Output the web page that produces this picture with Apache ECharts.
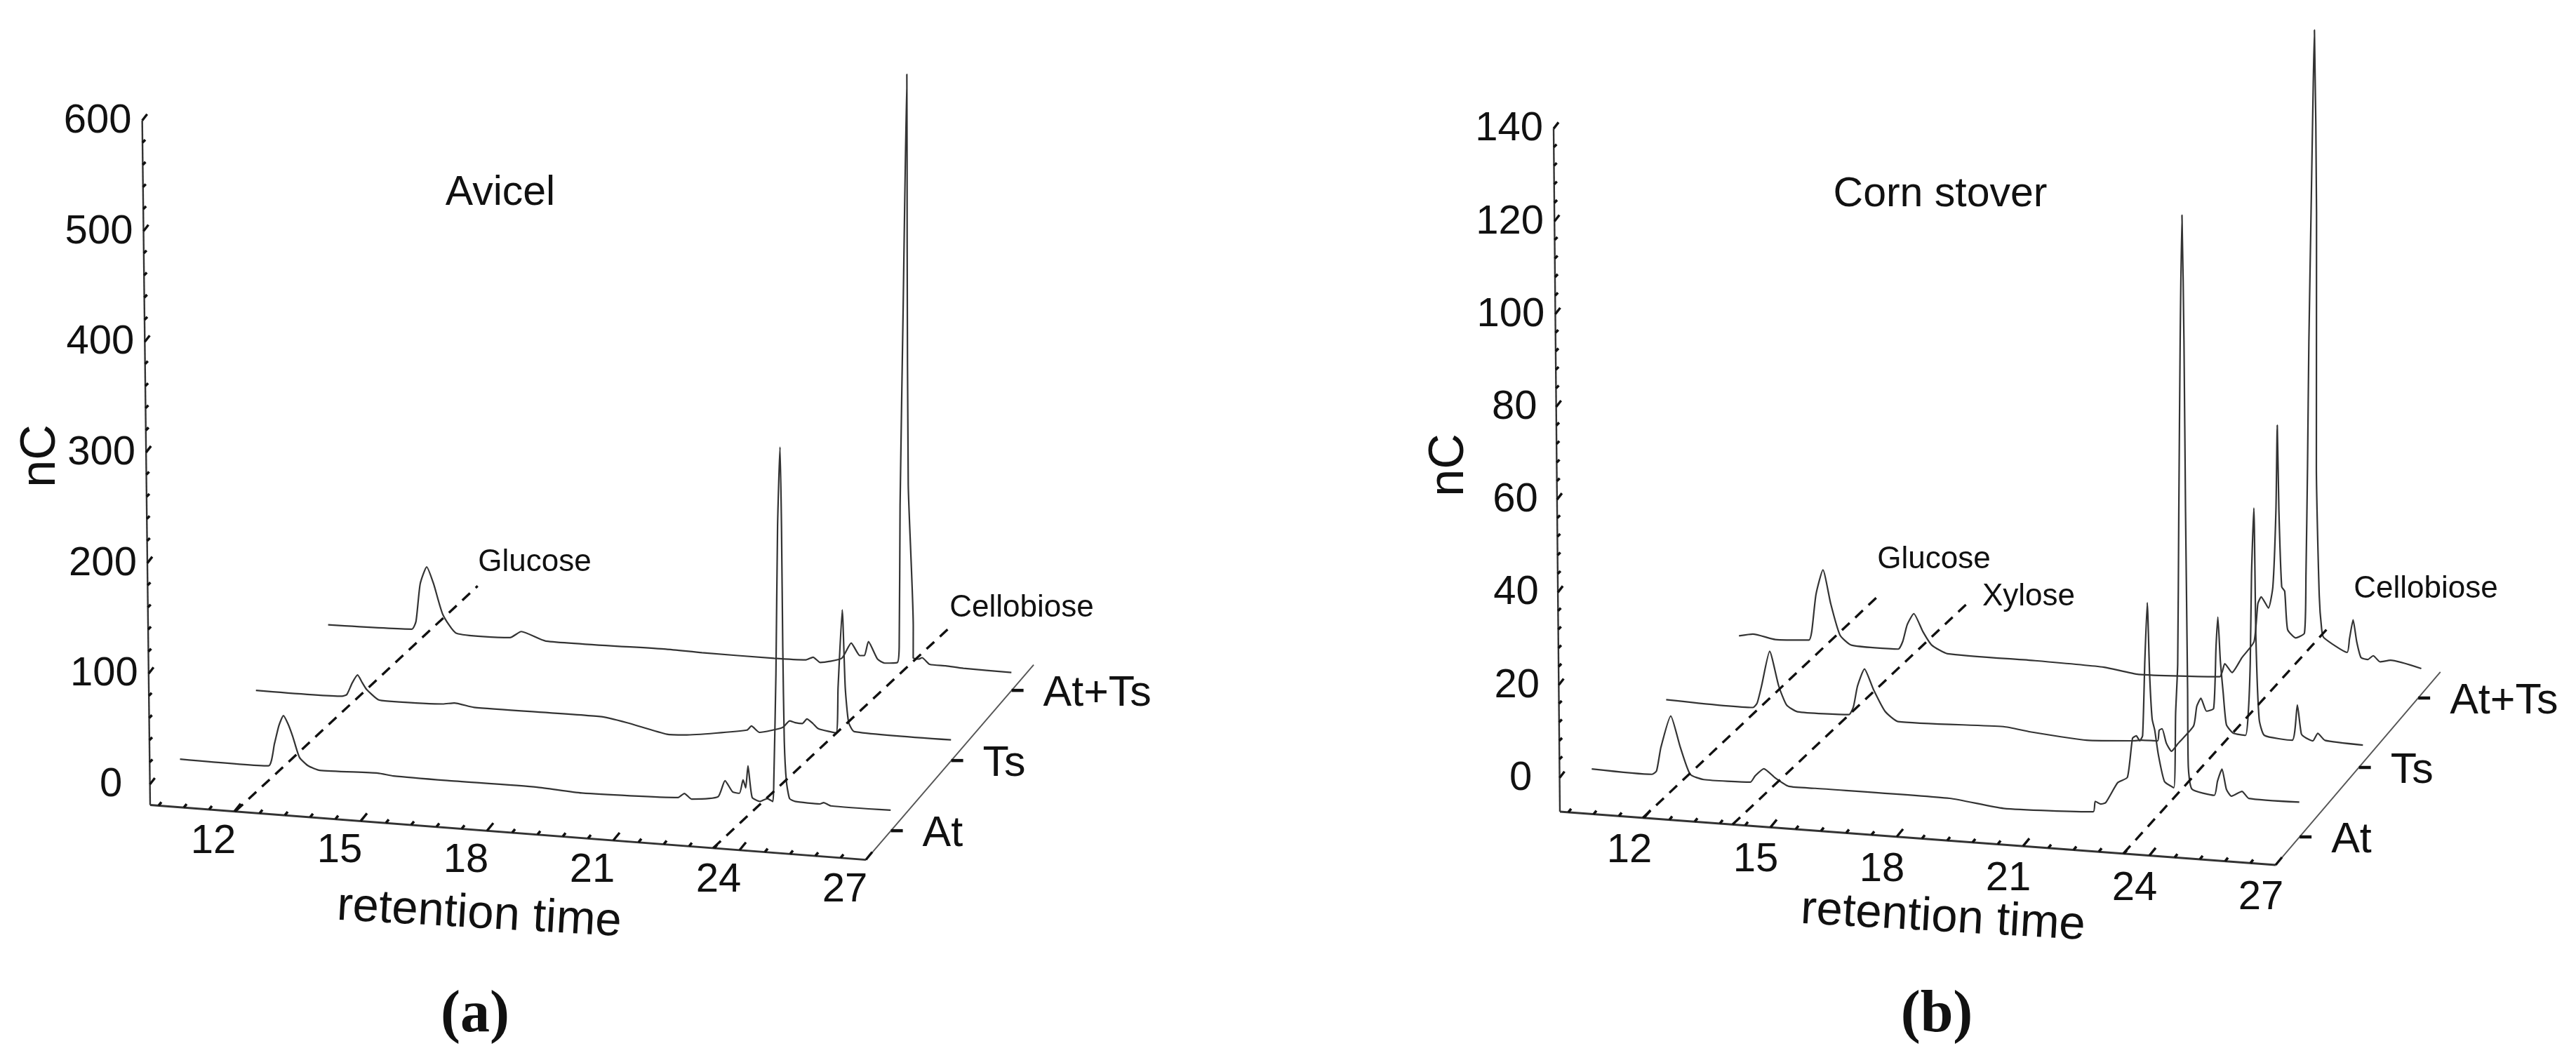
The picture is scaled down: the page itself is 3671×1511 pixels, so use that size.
<!DOCTYPE html>
<html>
<head>
<meta charset="utf-8">
<style>html,body{margin:0;padding:0;background:#fff}#c{width:3671px;height:1511px}</style>
<script src="https://cdn.jsdelivr.net/npm/echarts@6/dist/echarts.min.js"></script>
</head>
<body>
<div id="c"></div>
<script>
// ---------- Data: [retention time, nC] ----------
const depthLabels = ['At', 'Ts', 'At+Ts'];
const timeTicks = [12, 15, 18, 21, 24, 27];
const nCTicksAvicel = [0, 100, 200, 300, 400, 500, 600];
const nCTicksCorn = [0, 20, 40, 60, 80, 100, 120, 140];

const avicelAt = [[10.12,-3.1],[12.22,-3.1],[12.37,17.4],[12.48,34],[12.59,43.4],[12.7,36],[12.81,24.7],[12.96,6.7],[13.17,-0.4],[13.44,-3.6],[14.82,-2.1],[15.19,-3.6],[16.47,-4],[18.6,-3.8],[19.66,-6],[21.95,-3.4],[22.1,0.7],[22.27,-3.9],[22.9,0],[23.07,15.1],[23.25,5.4],[23.41,4.7],[23.5,17.1],[23.56,10],[23.62,30.2],[23.71,1.9],[23.9,-1.2],[24.07,1.8],[24.2,-0.5],[24.23,18],[24.31,115],[24.39,249],[24.47,320.6],[24.483,249],[24.48,140],[24.49,55.3],[24.53,18.5],[24.6,3.3],[24.73,1.2],[25.32,0.6],[25.41,2.1],[25.58,-0.4],[27,-0.2]];
const avicelTs = [[10.49,-3.3],[12.54,-2.6],[12.65,-0.8],[12.78,10],[12.91,17.6],[13.02,11],[13.12,5.2],[13.39,-3.2],[13.66,-3.9],[14.93,-2.7],[15.2,-1],[15.67,-3.6],[18.66,-3.2],[19.29,-6.8],[20.25,-14.6],[20.67,-14],[22.15,-5.3],[22.26,-1.3],[22.45,-6.5],[23,-0.4],[23.17,6],[23.3,4.8],[23.47,4.5],[23.58,8.9],[23.72,5.3],[23.85,0.9],[24.27,-1.6],[24.33,39.9],[24.45,110],[24.5,40],[24.57,8.9],[24.7,0.8],[27,0]];
const avicelBoth = [[10.77,-6.7],[12.76,-4.8],[12.86,2.5],[12.97,36.7],[13.13,52.6],[13.29,37.6],[13.5,10.6],[13.82,-5.5],[15.09,-5.7],[15.36,0.6],[15.94,-6.3],[18.8,-5.3],[19.65,-6],[21.36,-6.1],[22.12,-5.3],[22.29,-2.4],[22.46,-6.7],[22.97,-1.4],[23.2,13.1],[23.4,2.3],[23.51,2.6],[23.61,15.5],[23.82,0.4],[23.99,-2.8],[24.29,-1.4],[24.34,13],[24.4,141],[24.53,323],[24.68,531.5],[24.64,378],[24.6,160],[24.68,32],[24.67,4],[24.8,3.2],[24.88,4.7],[25.06,-0.8],[25.44,-1],[25.86,-2.1],[27,-2.5]];

const cornAt = [[10.19,-4],[11.62,-4.2],[11.73,-3.4],[11.84,1.8],[12.08,8.7],[12.3,2.1],[12.53,-3.6],[12.85,-4.5],[13.96,-4.3],[14.07,-2.9],[14.28,-1.2],[14.55,-3],[14.87,-4.6],[15.5,-4.6],[18.69,-4.6],[19.97,-5.9],[22.1,-5.2],[22.15,-2.9],[22.28,-3.4],[22.4,-3],[22.69,1.5],[22.92,2.8],[23.05,11.3],[23.14,11.9],[23.22,10.9],[23.29,12],[23.36,28.3],[23.43,40.8],[23.47,25.5],[23.52,15.8],[23.58,13.4],[23.66,8.2],[23.8,2.5],[24.02,1.3],[24.08,17.4],[24.14,28],[24.2,61],[24.27,98],[24.34,125],[24.36,98],[24.36,61],[24.37,23],[24.37,6],[24.45,1.3],[24.98,0.3],[25.06,3.4],[25.17,6.1],[25.27,1.8],[25.39,0.4],[25.64,1.6],[25.8,0.2],[27,0.2]];
const cornTs = [[10.55,-3.8],[12.61,-4.1],[12.71,-3.1],[12.82,0.7],[13.02,8.3],[13.23,0.9],[13.41,-3],[13.67,-4.3],[14.89,-4.1],[15,-2.3],[15.1,2.2],[15.27,6],[15.48,1.7],[15.75,-2.8],[16.06,-4.8],[18.56,-4.2],[19.2,-4.9],[20.53,-5.8],[21.61,-5.2],[21.85,-4.9],[22.22,-4.8],[22.26,-2.5],[22.33,-2.1],[22.43,-5.2],[22.55,-6.8],[22.71,-5],[23.08,-1],[23.16,3.3],[23.26,5.1],[23.39,2.4],[23.56,3.1],[23.63,16.4],[23.68,22.9],[23.73,13.5],[23.79,6.7],[23.86,-0.2],[24.02,-1.9],[24.31,-2.2],[24.38,2.4],[24.44,13.5],[24.49,32.7],[24.56,47],[24.58,19],[24.64,1.5],[24.76,-1.9],[25.42,-2.5],[25.55,5.2],[25.64,-1],[25.75,-1.8],[25.91,-2.3],[26.03,-0.6],[26.2,-2],[27.1,-2.4]];
const cornBoth = [[10.87,-4.8],[11.2,-4.2],[11.73,-5],[12.53,-4.6],[12.6,-2.7],[12.71,5.4],[12.88,10.8],[13.06,3.5],[13.27,-3],[13.54,-5],[14.65,-5.1],[14.76,-3.4],[14.87,0.3],[15.03,2.8],[15.24,-0.9],[15.45,-3.7],[15.82,-5.3],[17.9,-5.4],[19.54,-5.7],[20.36,-6.7],[22.29,-5.9],[22.35,-4.7],[22.41,-3],[22.58,-4.8],[22.82,-1.4],[23.11,2.2],[23.21,10.5],[23.29,12],[23.46,9.7],[23.57,14.4],[23.66,31],[23.71,49.3],[23.73,31],[23.78,14.5],[23.85,13.6],[23.91,5.4],[24.1,3.7],[24.31,4.9],[24.36,17.7],[24.42,40.8],[24.48,68],[24.56,95.8],[24.64,123.5],[24.68,135.2],[24.69,95.9],[24.63,41],[24.67,13.3],[24.72,6],[24.77,4.2],[25.32,1.4],[25.38,4.4],[25.47,8.5],[25.55,3.9],[25.65,0.5],[25.81,0.2],[25.94,1.1],[26.1,-0.1],[26.35,0.4],[27.08,-0.9]];

// Peak guide lines on the floor of each plot: [time, depth]
const avicelGlucoseGuide = [[12.02,0.586],[13.10,3.85]];
const avicelCellobioseGuide = [[23.37,0.586],[24.42,3.80]];
const cornGlucoseGuide = [[11.97,0.596],[12.99,3.82]];
const cornXyloseGuide = [[14.1,0.596],[15.13,3.84]];
const cornCellobioseGuide = [[23.38,0.596],[23.65,3.86]];

// ---------- Oblique projection of each panel ----------
const frameA = {ox:214,oy:1147.5,xT:60,yT:4.59,xD:86,yD:-100,xV:-0.0183,yV:-1.577,d0:0.586,dMax:3.366,v0:-18.7,vMax:600,vStep:20,vMajor:100,
  tickLabel:[-30,38],traces:[avicelAt,avicelTs,avicelBoth],guides:[avicelGlucoseGuide,avicelCellobioseGuide],vTicks:nCTicksAvicel};
const frameB = {ox:2223,oy:1157,xT:60,yT:4.47,xD:84.5,yD:-99,xV:-0.061,yV:-6.61,d0:0.596,dMax:3.374,v0:-7.3,vMax:140,vStep:4,vMajor:20,
  tickLabel:[-21,42],traces:[cornAt,cornTs,cornBoth],guides:[cornGlucoseGuide,cornXyloseGuide,cornCellobioseGuide],vTicks:nCTicksCorn};
function project(f,t,v,d){
  const T=t-10, D=d-f.d0, V=v-f.v0;
  return [f.ox+f.xT*T+f.xD*D+f.xV*V, f.oy+f.yT*T+f.yD*D+f.yV*V];
}

// ---------- Annotation placement ----------
const SANS='"Liberation Sans",Arial,sans-serif';
const texts=[], segments=[], series=[];
const textStore=[];
function addText(x,y,s,size,opt){texts.push([x,y,texts.length]);textStore.push(Object.assign({s,size},opt||{}));}
const INK='#111';

function addPanel(f){
  f.traces.forEach((tr,i)=>{
    series.push({type:'line',name:depthLabels[i],data:tr.map(p=>project(f,p[0],p[1],i+1)),showSymbol:false,symbol:'none',
      smooth:0.18,clip:false,silent:true,animation:false,z:3,lineStyle:{color:'#333',width:2.2}});
  });
  f.guides.forEach(g=>{
    series.push({type:'line',data:g.map(p=>project(f,p[0],f.v0,p[1])),showSymbol:false,symbol:'none',clip:false,silent:true,animation:false,z:4,
      lineStyle:{color:'#111',width:3.4,type:[15,11]}});
  });
  const axisLines=[
    [project(f,10,f.v0,f.d0),project(f,10,f.vMax,f.d0),'#333',2.4],
    [project(f,10,f.v0,f.d0),project(f,27,f.v0,f.d0),'#333',2.8],
    [project(f,27,f.v0,f.d0),project(f,27,f.v0,f.dMax),'#555',1.9]
  ];
  axisLines.forEach(a=>series.push({type:'line',data:[a[0],a[1]],showSymbol:false,symbol:'none',clip:false,silent:true,animation:false,z:2,lineStyle:{color:a[2],width:a[3]}}));
  for(let v=0;v<=f.vMax;v+=f.vStep){
    const p=project(f,10,v,f.d0), major=v%f.vMajor===0;
    segments.push(major?[p[0],p[1],7,-9,3.4]:[p[0],p[1],4,-4,3.6]);
  }
  f.vTicks.forEach(v=>{
    const p=project(f,10,v,f.d0), s=String(v);
    addText(p[0]-63.5+(3-s.length)*4,p[1]+1,s,58,{});
  });
  for(let k=0;k<=28;k++){
    const t=10.2+0.6*k;
    if(t>27.01)break;
    const p=project(f,t,f.v0,f.d0), major=Math.abs((t-12)/3-Math.round((t-12)/3))<1e-6;
    segments.push(major?[p[0],p[1],9,-11,3.4]:[p[0],p[1],4,-5,3.6]);
  }
  timeTicks.forEach(t=>{
    const p=project(f,t,f.v0,f.d0);
    addText(p[0]+f.tickLabel[0],p[1]+f.tickLabel[1]+5,String(t),58,{});
  });
  depthLabels.forEach((s,i)=>{
    const p=project(f,27,f.v0,i+1);
    segments.push([p[0],p[1],17,0,4.5]);
    addText(p[0]+45,p[1]+5,s,61,{align:'left'});
  });
}
addPanel(frameA);
addPanel(frameB);

[
 [713,276,'Avicel',59],[2765,278,'Corn stover',59],
 [762,802,'Glucose',44],[1456,867,'Cellobiose',44],
 [2756,798,'Glucose',44],[2891,851,'Xylose',44],[3457,840,'Cellobiose',44]
].forEach(a=>addText(a[0],a[1],a[2],a[3],{}));
addText(59,650,'nC',70,{rotation:Math.PI/2});
addText(2066,663,'nC',70,{rotation:Math.PI/2});
addText(683,1304,'retention time',67,{rotation:-0.058});
addText(2769,1309,'retention time',67,{rotation:-0.058});
addText(677,1448,'(a)',84,{font:'"Liberation Serif",serif',weight:'bold'});
addText(2760,1448,'(b)',84,{font:'"Liberation Serif",serif',weight:'bold'});

series.push({type:'custom',data:segments,clip:false,silent:true,animation:false,z:3,
  renderItem:(params,api)=>{
    const a=api.coord([api.value(0),api.value(1)]);
    return {type:'line',shape:{x1:a[0],y1:a[1],x2:a[0]+api.value(2),y2:a[1]+api.value(3)},
      style:{stroke:'#111',lineWidth:api.value(4),fill:null}};
  }});
series.push({type:'custom',data:texts,clip:false,silent:true,animation:false,z:5,
  renderItem:(params,api)=>{
    const a=api.coord([api.value(0),api.value(1)]);
    const o=textStore[api.value(2)];
    return {type:'text',x:a[0],y:a[1],rotation:o.rotation||0,
      style:{text:o.s,fill:INK,font:(o.weight||'normal')+' '+o.size+'px '+(o.font||SANS),
        textAlign:o.align||'center',textVerticalAlign:'middle',align:o.align||'center',verticalAlign:'middle'}};
  }});

const chart=echarts.init(document.getElementById('c'),null,{renderer:'canvas',devicePixelRatio:1});
chart.setOption({
  animation:false,backgroundColor:'#fff',tooltip:{show:false},legend:{show:false},
  grid:{left:0,right:0,top:0,bottom:0,containLabel:false},
  xAxis:{type:'value',min:0,max:3671,show:false},
  yAxis:{type:'value',min:0,max:1511,inverse:true,show:false},
  series
});
</script>
</body>
</html>
